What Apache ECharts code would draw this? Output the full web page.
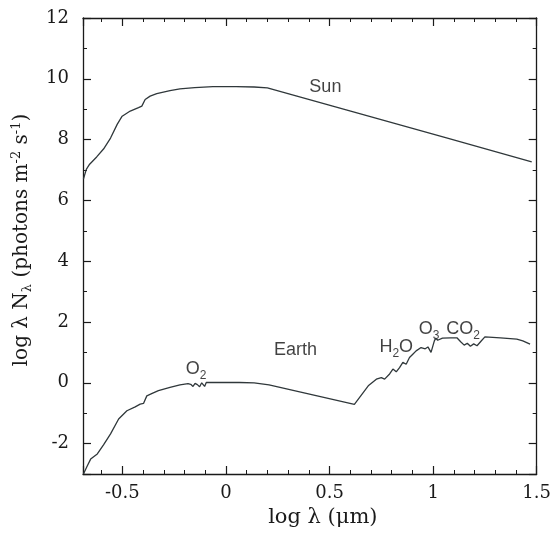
<!DOCTYPE html>
<html>
<head>
<meta charset="utf-8">
<script src="https://cdn.jsdelivr.net/npm/echarts@6/dist/echarts.min.js"></script>
<style>
  html, body { margin: 0; padding: 0; background: #fff; }
  #chart { width: 554px; height: 541px; }
</style>
</head>
<body>
<div id="chart"></div>
<script>
// Solar photon flux spectrum (log λ in µm vs log λN_λ)
const sunLogLambda = [-0.688, -0.674, -0.658, -0.624, -0.591, -0.557, -0.525, -0.501, -0.462, -0.422,
  -0.406, -0.390, -0.366, -0.334, -0.270, -0.222, -0.151, -0.063, 0.049, 0.136, 0.200, 1.069, 1.476];
const sunFlux = [6.70, 7.02, 7.19, 7.43, 7.69, 8.05, 8.50, 8.77, 8.94, 9.05,
  9.10, 9.32, 9.43, 9.51, 9.61, 9.67, 9.71, 9.74, 9.74, 9.73, 9.70, 8.05, 7.27];

// Earth: reflected sunlight (short wave) and thermal emission with absorption bands
const earthLogLambda = [-0.688, -0.669, -0.653, -0.621, -0.591, -0.557, -0.518, -0.478, -0.438, -0.414,
  -0.398, -0.382, -0.356, -0.326, -0.270, -0.222, -0.183, -0.170, -0.159, -0.149,
  -0.138, -0.127, -0.117, -0.108, -0.103, -0.095, -0.017, 0.065, 0.136, 0.208,
  0.620, 0.687, 0.726, 0.750, 0.766, 0.790, 0.806, 0.822, 0.838, 0.854,
  0.870, 0.886, 0.902, 0.909, 0.918, 0.942, 0.962, 0.975, 0.990, 1.006,
  1.013, 1.022, 1.045, 1.085, 1.115, 1.133, 1.150, 1.165, 1.180, 1.196,
  1.212, 1.230, 1.250, 1.325, 1.404, 1.433, 1.468];
const earthFlux = [-3.00, -2.73, -2.51, -2.34, -2.04, -1.68, -1.19, -0.92, -0.79, -0.70,
  -0.68, -0.43, -0.35, -0.26, -0.15, -0.07, -0.03, -0.05, -0.12, -0.02,
  -0.06, -0.13, 0.00, -0.04, -0.12, 0.01, 0.01, 0.01, 0.00, -0.07,
  -0.71, -0.10, 0.12, 0.17, 0.12, 0.29, 0.45, 0.36, 0.50, 0.67,
  0.61, 0.83, 0.94, 0.89, 1.05, 1.16, 1.12, 1.18, 1.00, 1.38,
  1.47, 1.40, 1.47, 1.48, 1.48, 1.35, 1.24, 1.30, 1.20, 1.28,
  1.22, 1.36, 1.51, 1.48, 1.44, 1.38, 1.27];

// Curve labels and absorbing species
const noteX = [0.480, 0.336, -0.144, 0.822, 0.981, 1.145];
const noteY = [9.73, 1.08, 0.39, 1.11, 1.70, 1.70];
const noteText = ['Sun', 'Earth', '{m|O}{s|2}', '{m|H}{s|2}{m|O}', '{m|O}{s|3}', '{m|CO}{s|2}'];

// Axis ranges and ticks
const xRange = [-0.69, 1.5];
const yRange = [-3, 12];
const xStep = 0.5;
const yStep = 2;

const zip = (xs, ys) => xs.map((x, i) => [x, ys[i]]);

const ink = '#1a1a1a';
const curveColor = '#30383b';
const serif = 'DejaVu Serif';

function xAxisDef(pos, labels) {
  return {
    type: 'value', position: pos,
    min: xRange[0], max: xRange[1],
    minInterval: xStep, maxInterval: xStep, splitNumber: 5,
    axisLine: { show: true, onZero: false, lineStyle: { color: ink, width: 1.3 } },
    axisTick: { show: true, inside: true, length: 8, lineStyle: { color: ink, width: 1.2 } },
    minorTick: { show: true, splitNumber: 5, length: 4, lineStyle: { color: ink, width: 1 } },
    splitLine: { show: false },
    minorSplitLine: { show: false },
    axisLabel: {
      show: labels, showMinLabel: false, margin: 10,
      fontFamily: serif, fontSize: 18, color: ink,
      formatter: v => String(v)
    }
  };
}

function yAxisDef(pos, labels) {
  return {
    type: 'value', position: pos,
    min: yRange[0], max: yRange[1],
    minInterval: yStep, maxInterval: yStep, splitNumber: 7,
    axisLine: { show: true, onZero: false, lineStyle: { color: ink, width: 1.3 } },
    axisTick: { show: true, inside: true, length: 8, lineStyle: { color: ink, width: 1.2 } },
    minorTick: { show: true, splitNumber: 2, length: 4, lineStyle: { color: ink, width: 1 } },
    splitLine: { show: false },
    minorSplitLine: { show: false },
    axisLabel: {
      show: labels, showMinLabel: false, margin: 14,
      fontFamily: serif, fontSize: 18, color: ink
    }
  };
}

const xBottom = xAxisDef('bottom', true);
xBottom.name = 'log λ (μm)';
xBottom.nameLocation = 'middle';
xBottom.nameGap = 33;
xBottom.nameTextStyle = { fontFamily: serif, fontSize: 21, color: ink, padding: [0, 0, 0, 26] };

const yLeft = yAxisDef('left', true);
yLeft.name = '{m|log λ N}{s|λ}{m| (photons m}{p|-2}{m| s}{p|-1}{m|)}';
yLeft.nameLocation = 'middle';
yLeft.nameGap = 49;
yLeft.nameRotate = 90;
yLeft.nameTextStyle = {
  color: ink,
  padding: [0, 0, 0, 12],
  rich: {
    m: { fontFamily: serif, fontSize: 20, color: ink, lineHeight: 24 },
    s: { fontFamily: serif, fontSize: 13, color: ink, lineHeight: 13, verticalAlign: 'bottom' },
    p: { fontFamily: serif, fontSize: 13, color: ink, lineHeight: 13, verticalAlign: 'top' }
  }
};

const noteRich = {
  m: { fontFamily: 'Liberation Sans', fontSize: 18, color: '#111', lineHeight: 22, verticalAlign: 'top' },
  s: { fontFamily: 'Liberation Sans', fontSize: 12, color: '#111', lineHeight: 12, verticalAlign: 'bottom' }
};

const option = {
  animation: false,
  backgroundColor: '#fff',
  grid: { left: 83, right: 13, top: 18, bottom: 67 },
  xAxis: [xBottom, xAxisDef('top', false)],
  yAxis: [yLeft, yAxisDef('right', false)],
  series: [
    {
      name: 'Sun', type: 'line', data: zip(sunLogLambda, sunFlux),
      symbol: 'none', smooth: false,
      lineStyle: { color: curveColor, width: 1.3 }
    },
    {
      name: 'Earth', type: 'line', data: zip(earthLogLambda, earthFlux),
      symbol: 'none', smooth: false,
      lineStyle: { color: curveColor, width: 1.3 }
    },
    {
      name: 'labels', type: 'scatter', silent: true,
      symbolSize: 0,
      data: noteX.map((x, i) => ({ value: [x, noteY[i]], text: noteText[i] })),
      label: {
        show: true, position: 'inside',
        fontFamily: 'Liberation Sans', fontSize: 18, color: '#111',
        formatter: p => p.data.text,
        rich: noteRich
      }
    }
  ]
};

const chart = echarts.init(document.getElementById('chart'), null, { renderer: 'canvas' });
chart.setOption(option);
</script>
</body>
</html>
